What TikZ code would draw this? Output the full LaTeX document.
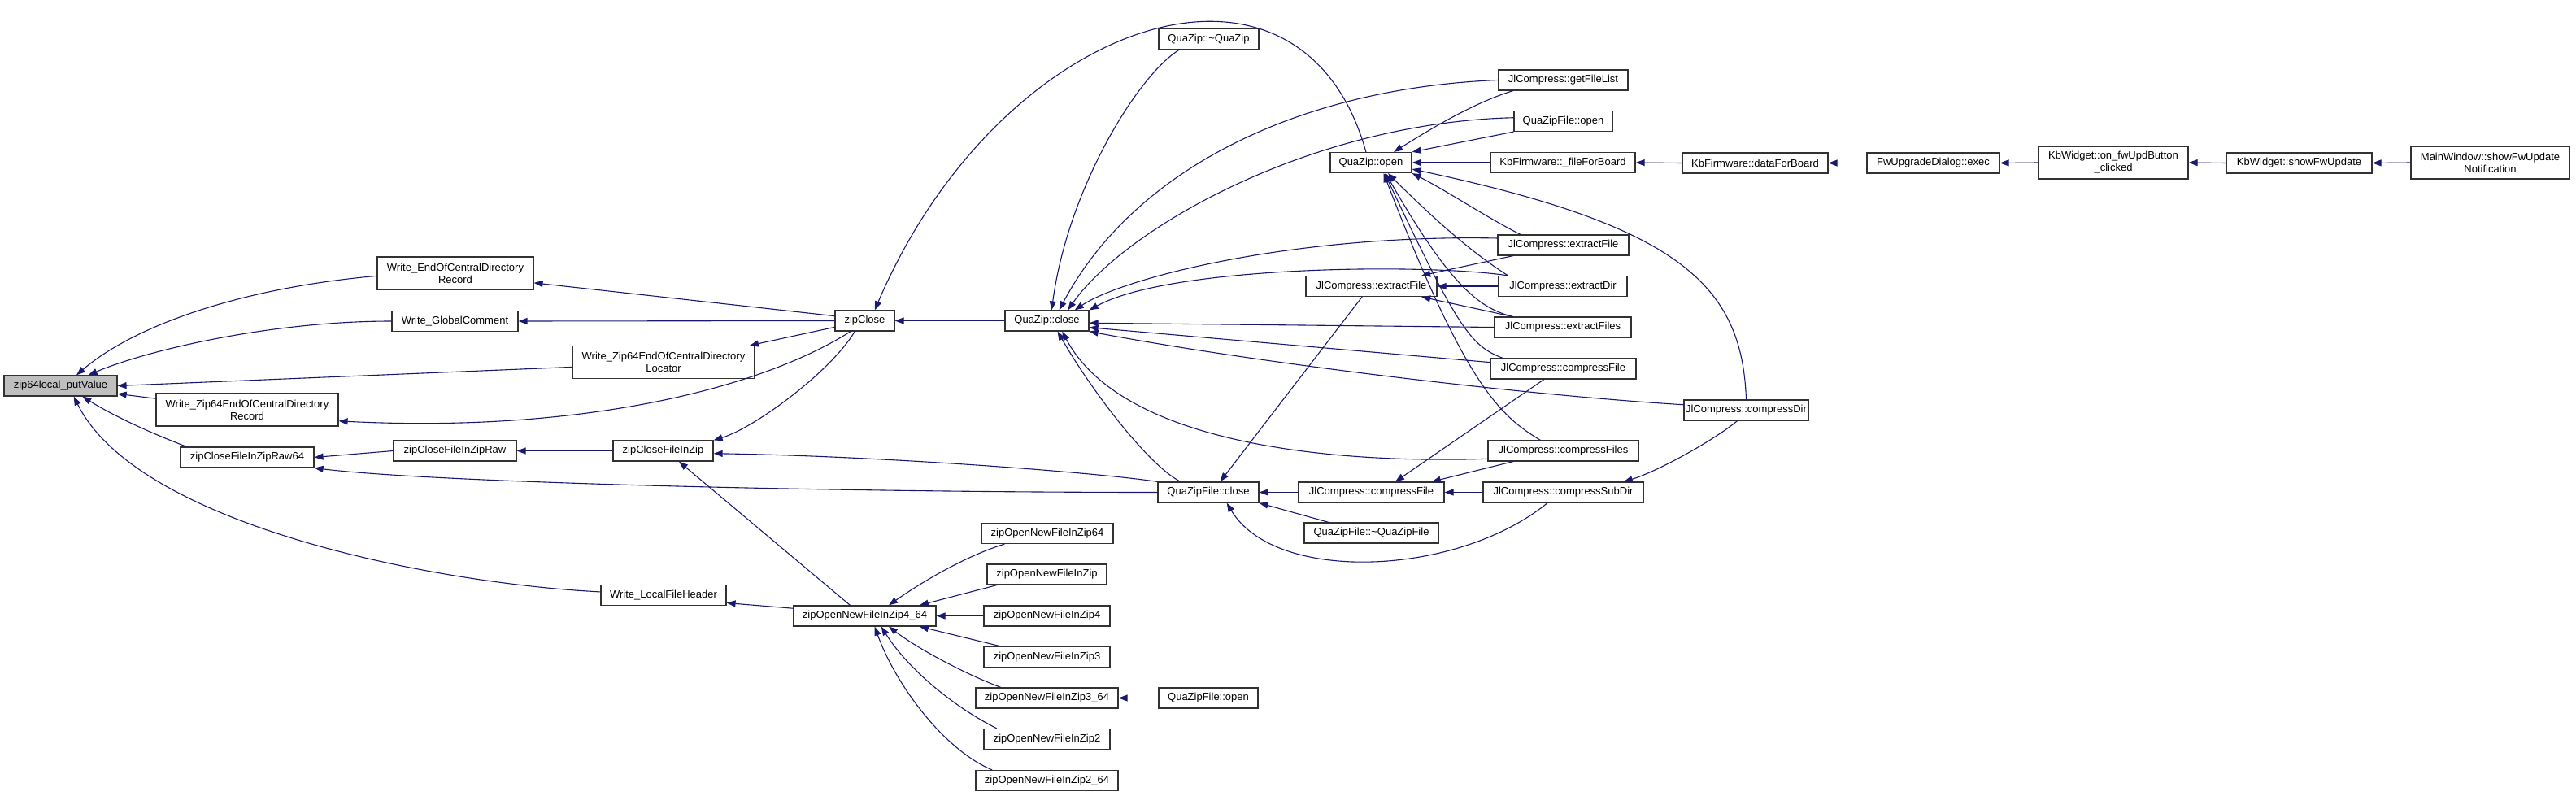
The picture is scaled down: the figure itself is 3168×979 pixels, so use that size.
\documentclass[tikz,border=0pt]{standalone}
\usepackage{fontspec}
\setmainfont{Liberation Sans}
\usepackage{xcolor}
\usetikzlibrary{arrows.meta}
\definecolor{edgeblue}{RGB}{25,25,112}
\definecolor{rootfill}{RGB}{191,191,191}
\definecolor{boxline}{RGB}{50,50,50}

\tikzset{
  fn/.style={draw=boxline, fill=white, line width=1.2pt, inner sep=1pt,
    minimum height=25pt, align=center, font=\fontsize{13pt}{15pt}\selectfont},
  fnroot/.style={fn, fill=rootfill},
  fntwo/.style={fn, minimum height=40pt},
  call/.style={draw=edgeblue, line width=1.1pt, {Triangle[length=11pt,width=8pt]}-}
}

\begin{document}
\begin{tikzpicture}[x=1pt, y=-1pt]
\useasboundingbox (0,0) rectangle (3168,979);

% zip side
\node[fnroot, minimum width=139pt] (putValue) at (74.5,474.5) {zip64local\_putValue};
\node[fntwo, minimum width=192pt] (weocdr) at (560,336) {Write\_EndOfCentralDirectory\\Record};
\node[fn, minimum width=155pt] (wgc) at (559.5,395) {Write\_GlobalComment};
\node[fntwo, minimum width=224pt] (wzloc) at (816,445.5) {Write\_Zip64EndOfCentralDirectory\\Locator};
\node[fntwo, minimum width=224pt] (wzrec) at (304,504) {Write\_Zip64EndOfCentralDirectory\\Record};
\node[fn, minimum width=164pt] (raw64) at (304,562.5) {zipCloseFileInZipRaw64};
\node[fn, minimum width=151pt] (raw) at (559.5,554.5) {zipCloseFileInZipRaw};
\node[fn, minimum width=123pt] (inzip) at (815.5,554.5) {zipCloseFileInZip};
\node[fn, minimum width=73pt] (zipclose) at (1063.5,394.5) {zipClose};
\node[fn, minimum width=154pt] (wlfh) at (816,732) {Write\_LocalFileHeader};
\node[fn, minimum width=175pt] (o464) at (1063.5,757.5) {zipOpenNewFileInZip4\_64};
\node[fn, minimum width=162pt] (o64) at (1288,656) {zipOpenNewFileInZip64};
\node[fn, minimum width=147pt] (o) at (1287.5,706.5) {zipOpenNewFileInZip};
\node[fn, minimum width=155pt] (o4) at (1287.5,757.5) {zipOpenNewFileInZip4};
\node[fn, minimum width=155pt] (o3) at (1287.5,808) {zipOpenNewFileInZip3};
\node[fn, minimum width=175pt] (o364) at (1287.5,858.5) {zipOpenNewFileInZip3\_64};
\node[fn, minimum width=155pt] (o2) at (1287.5,909) {zipOpenNewFileInZip2};
\node[fn, minimum width=175pt] (o264) at (1287.5,960) {zipOpenNewFileInZip2\_64};

% QuaZip side
\node[fn, minimum width=103pt] (qzclose) at (1287.5,394.5) {QuaZip::close};
\node[fn, minimum width=123pt] (qzdtor) at (1486.5,48) {QuaZip::\textasciitilde QuaZip};
\node[fn, minimum width=124pt] (qzfclose) at (1486,605.5) {QuaZipFile::close};
\node[fn, minimum width=122pt] (qzfopenB) at (1486,858.5) {QuaZipFile::open};
\node[fn, minimum width=100pt] (qzopen) at (1686,200) {QuaZip::open};
\node[fn, minimum width=159pt] (getfl) at (1922.5,98.5) {JlCompress::getFileList};
\node[fn, minimum width=121pt] (qzfopenA) at (1922.5,149) {QuaZipFile::open};
\node[fn, minimum width=178pt] (ffb) at (1922,200) {KbFirmware::\_fileForBoard};
\node[fn, minimum width=161pt] (exfR) at (1922.5,301.5) {JlCompress::extractFile};
\node[fn, minimum width=161pt] (exfL) at (1686.5,352) {JlCompress::extractFile};
\node[fn, minimum width=158pt] (exdir) at (1922,352) {JlCompress::extractDir};
\node[fn, minimum width=168pt] (exfiles) at (1922,402.5) {JlCompress::extractFiles};
\node[fn, minimum width=179pt] (cfR) at (1922.5,453.5) {JlCompress::compressFile};
\node[fn, minimum width=153pt] (cdir) at (2147.5,504.5) {JlCompress::compressDir};
\node[fn, minimum width=185pt] (cfiles) at (1922.5,554.5) {JlCompress::compressFiles};
\node[fn, minimum width=179pt] (cfL) at (1686.5,605.5) {JlCompress::compressFile};
\node[fn, minimum width=197pt] (csub) at (1922.5,605.5) {JlCompress::compressSubDir};
\node[fn, minimum width=165pt] (qzfdtor) at (1686.5,655.5) {QuaZipFile::\textasciitilde QuaZipFile};

% firmware chain
\node[fn, minimum width=179pt] (dfb) at (2158.5,200.5) {KbFirmware::dataForBoard};
\node[fn, minimum width=163pt] (fwexec) at (2377.5,200.5) {FwUpgradeDialog::exec};
\node[fntwo, minimum width=184pt] (onfw) at (2599,200) {KbWidget::on\_fwUpdButton\\\_clicked};
\node[fn, minimum width=179pt] (showfw) at (2827.5,200.5) {KbWidget::showFwUpdate};
\node[fntwo, minimum width=195pt] (mainwin) at (3062.5,200) {MainWindow::showFwUpdate\\Notification};

% callers of zip64local_putValue
\draw[call] (putValue.34) .. controls +(70,-60) and +(-170,15) .. (weocdr.182);
\draw[call] (putValue.21) .. controls +(70,-30) and +(-150,0) .. (wgc.west);
\draw[call] (putValue.east) -- (wzloc.183);
\draw[call] (putValue.352) -- (wzrec.173);
\draw[call] (putValue.334) .. controls +(40,25) and +(-40,-15) .. (raw64.170);
\draw[call] (putValue.321) .. controls +(80,160) and +(-200,-10) .. (wlfh.177);

% zipClose
\draw[call] (weocdr.353) -- (zipclose.171);
\draw[call] (wgc.east) -- (zipclose.west);
\draw[call] (wzloc.11) -- (zipclose.192);
\draw[call] (wzrec.353) .. controls +(300,15) and +(-110,70) .. (zipclose.217);
\draw[call] (inzip.north east) .. controls +(50,-15) and +(-30,50) .. (zipclose.227);
\draw[call] (zipclose.47) .. controls +(155,-362) and +(-80,-287) .. (qzopen.115);
\draw[call] (zipclose.east) -- (qzclose.west);

% QuaZip::close
\draw[call] (qzclose.66) .. controls +(20,-150) and +(-50,30) .. (qzdtor.200);
\draw[call] (qzclose.41) .. controls +(90,-170) and +(-250,10) .. (getfl.west);
\draw[call] (qzclose.27) .. controls +(70,-100) and +(-250,6) .. (qzfopenA.176);
\draw[call] (qzclose.21) .. controls +(60,-40) and +(-250,-5) .. (exfR.174);
\draw[call] (qzclose.north east) .. controls +(100,-55) and +(-100,-15) .. (exdir.169);
\draw[call] (qzclose.357) -- (exfiles.west);
\draw[call] (qzclose.351) -- (cfR.175);
\draw[call] (qzclose.south east) .. controls +(200,38) and +(-200,-12) .. (cdir.175);
\draw[call] (qzclose.315) .. controls +(40,70) and +(-40,-20) .. (qzfclose.159);
\draw[call] (qzclose.325) .. controls +(80,150) and +(-150,5) .. (cfiles.186);

% QuaZipFile::close
\draw[call] (inzip.357) .. controls +(200,3) and +(-80,-12) .. (qzfclose.north west);
\draw[call] (raw64.south east) .. controls +(150,18) and +(-400,0) .. (qzfclose.west);
\draw[call] (qzfclose.42) -- (exfL.229);
\draw[call] (qzfclose.east) -- (cfL.west);
\draw[call] (qzfclose.south east) -- (qzfdtor.166);
\draw[call] (qzfclose.330) .. controls +(60,100) and +(-110,90) .. (csub.214);

% close in zip
\draw[call] (raw.east) -- (inzip.west);
\draw[call] (raw64.east) -- (raw.west);
\draw[call] (inzip.326) -- (o464.144);

% zipOpenNewFileInZip4_64
\draw[call] (wlfh.353) -- (o464.174);
\draw[call] (o464.24) .. controls +(50,-35) and +(-40,12) .. (o64.194);
\draw[call] (o464.11) -- (o.192);
\draw[call] (o464.east) -- (o4.west);
\draw[call] (o464.349) -- (o3.167);
\draw[call] (o464.336) .. controls +(40,30) and +(-40,-15) .. (o364.167);
\draw[call] (o464.327) .. controls +(35,55) and +(-50,-25) .. (o2.168);
\draw[call] (o464.313) .. controls +(25,70) and +(-60,-25) .. (o264.169);
\draw[call] (o364.east) -- (qzfopenB.west);

% QuaZip::open
\draw[call] (qzopen.25) .. controls +(40,-25) and +(-50,15) .. (getfl.192);
\draw[call] (qzopen.north east) -- (qzfopenA.south west);
\draw[call] (qzopen.east) -- (ffb.west);
\draw[call] (qzopen.351) .. controls +(330,70) and +(-5,-140) .. (cdir.north);
\draw[call] (qzopen.south east) .. controls +(40,20) and +(-40,-20) .. (exfR.166);
\draw[call] (qzopen.328) .. controls +(60,60) and +(-40,-25) .. (exdir.169);
\draw[call] (qzopen.324) .. controls +(80,140) and +(-40,-10) .. (exfiles.168);
\draw[call] (qzopen.322) .. controls +(90,190) and +(-40,-15) .. (cfR.170);
\draw[call] (qzopen.320) .. controls +(100,260) and +(-50,-30) .. (cfiles.155);

% JlCompress
\draw[call] (exfL.12) -- (exfR.192);
\draw[call] (exfL.east) -- (exdir.west);
\draw[call] (exfL.348) -- (exfiles.168);
\draw[call] (cfL.24) -- (cfR.209);
\draw[call] (cfL.10) -- (cfiles.192);
\draw[call] (cfL.east) -- (csub.west);
\draw[call] (csub.10) .. controls +(40,-12) and +(-30,25) .. (cdir.230);

% firmware chain
\draw[call] (ffb.east) -- (dfb.west);
\draw[call] (dfb.east) -- (fwexec.west);
\draw[call] (fwexec.east) -- (onfw.west);
\draw[call] (onfw.east) -- (showfw.west);
\draw[call] (showfw.east) -- (mainwin.west);
\end{tikzpicture}
\end{document}
